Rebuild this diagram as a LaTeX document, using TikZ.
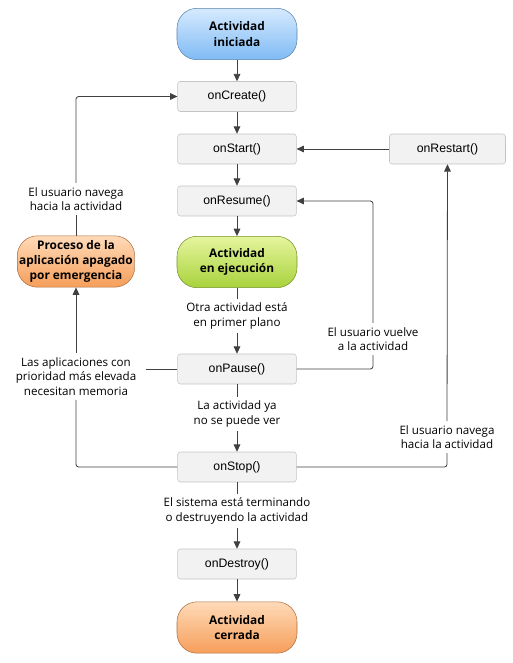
\documentclass[tikz,border=0pt]{standalone}
\usepackage{fontspec}
\usetikzlibrary{positioning,arrows.meta}
\newfontfamily\boxfont{Liberation Sans}
\newfontfamily\lblfont{Open Sans}

\definecolor{linegray}{HTML}{404040}
\definecolor{boxfill}{HTML}{F2F2F2}
\definecolor{boxline}{HTML}{C4C4C4}

\tikzset{
  stepbox/.style={draw=boxline, fill=boxfill, rounded corners=2pt, minimum width=89pt, minimum height=22.5pt, inner sep=0pt, font=\boxfont\fontsize{9.2}{11}\selectfont},
  pill/.style={draw=#1!70!black, rounded corners=15pt, minimum width=90pt, minimum height=38.5pt, align=center, inner sep=0pt, font=\lblfont\bfseries\fontsize{8.9}{11.5}\selectfont},
  bluepill/.style={pill=pillblue, top color=pillbluetop, bottom color=pillblue},
  greenpill/.style={pill=pillgreen, top color=pillgreentop, bottom color=pillgreen},
  orangepill/.style={pill=pillorange, top color=pillorangetop, bottom color=pillorange},
  lbl/.style={align=center, inner xsep=2pt, inner ysep=3pt, font=\lblfont\fontsize{8.7}{11}\selectfont},
  flow/.style={draw=linegray, line width=0.6pt, rounded corners=2pt},
  arr/.style={flow, -{Triangle[length=5.5pt,width=5pt]}}
}
\definecolor{pillblue}{HTML}{7FBBF5}
\definecolor{pillbluetop}{HTML}{D6EAFE}
\definecolor{pillgreen}{HTML}{A8D23C}
\definecolor{pillgreentop}{HTML}{E6F59E}
\definecolor{pillorange}{HTML}{F69E5A}
\definecolor{pillorangetop}{HTML}{FFDAB8}

\begin{document}
\begin{tikzpicture}[x=0.75pt, y=-0.75pt]
  \useasboundingbox (0,0) rectangle (513,663);

  % main column
  \node[bluepill] (start0) at (237,34) {Actividad\\iniciada};
  \node[stepbox] (create) at (237,96.5) {onCreate()};
  \node[stepbox] (start) at (237,149) {onStart()};
  \node[stepbox] (resume) at (237,201) {onResume()};
  \node[greenpill] (running) at (237,262) {Actividad\\en ejecución};
  \node[lbl] (tfront) at (237,316) {Otra actividad está\\en primer plano};
  \node[stepbox] (pause) at (237,369) {onPause()};
  \node[lbl] (thidden) at (237,414) {La actividad ya\\no se puede ver};
  \node[stepbox] (stop) at (237,467) {onStop()};
  \node[lbl] (tfinish) at (237,511) {El sistema está terminando\\o destruyendo la actividad};
  \node[stepbox] (destroy) at (237,564) {onDestroy()};
  \node[orangepill] (closed) at (237,627.5) {Actividad\\cerrada};

  % side nodes
  \node[stepbox, minimum width=87pt] (restart) at (447.5,149) {onRestart()};
  \node[orangepill, minimum width=88pt] (killed) at (76,261.5) {Proceso de la\\aplicación apagado\\por emergencia};
  \node[lbl] (tnavleft) at (76,199) {El usuario navega\\hacia la actividad};
  \node[lbl, inner xsep=7pt] (tmemory) at (76,376.5) {Las aplicaciones con\\prioridad más elevada\\necesitan memoria};
  \node[lbl] (tback) at (373,339) {El usuario vuelve\\a la actividad};
  \node[lbl] (tnavright) at (447,437) {El usuario navega\\hacia la actividad};

  % main flow
  \draw[arr] (start0) -- (create);
  \draw[arr] (create) -- (start);
  \draw[arr] (start) -- (resume);
  \draw[arr] (resume) -- (running);
  \draw[flow] (running) -- (tfront);
  \draw[arr] (tfront) -- (pause);
  \draw[flow] (pause) -- (thidden);
  \draw[arr] (thidden) -- (stop);
  \draw[flow] (stop) -- (tfinish);
  \draw[arr] (tfinish) -- (destroy);
  \draw[arr] (destroy) -- (closed);

  % loops
  \draw[arr] (restart) -- (start);
  \draw[flow] (pause.east) -| (tback.south);
  \draw[arr] (tback.north) |- (resume.east);
  \draw[flow] (stop.east) -| (tnavright.south);
  \draw[arr] (tnavright) -- (restart);
  \draw[flow] (pause.west) -- (pause.west -| tmemory.east);
  \draw[flow] (stop.west) -| (tmemory.south);
  \draw[arr] (tmemory) -- (killed);
  \draw[flow] (killed) -- (tnavleft);
  \draw[arr] (tnavleft.north) |- (create.west);
\end{tikzpicture}
\end{document}
